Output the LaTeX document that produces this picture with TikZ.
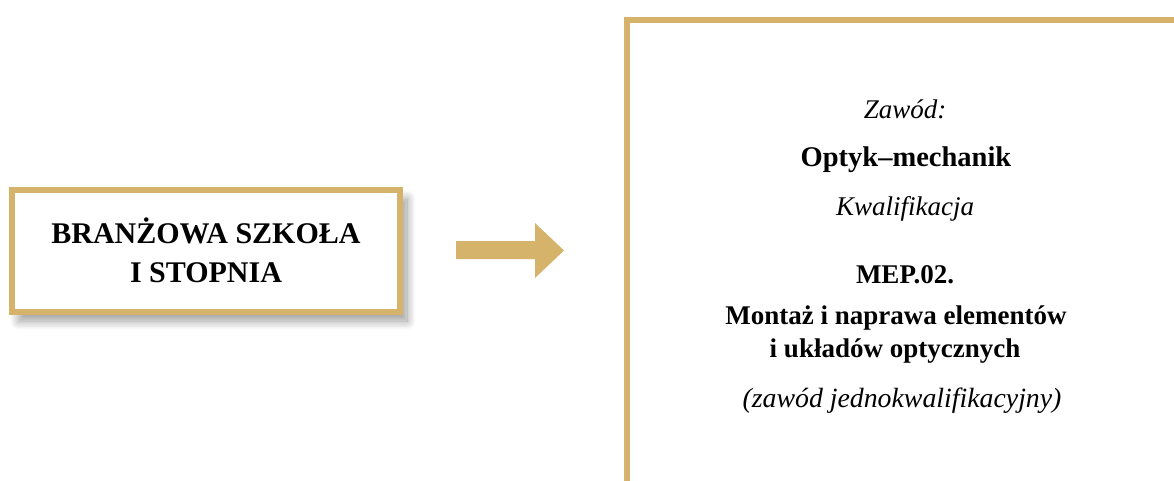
\documentclass[tikz,border=0pt]{standalone}
\usepackage{fontspec}
\setmainfont{Liberation Serif}
\usetikzlibrary{shadows.blur}
\definecolor{gold}{RGB}{214,179,106}
\begin{document}
\begin{tikzpicture}[x=1pt,y=-1pt,
  goldframe/.style={draw=gold,line width=6pt,fill=white},
  lbl/.style={anchor=base,inner sep=0pt,text=black},
  bigb/.style={lbl,font=\fontsize{30}{34}\selectfont\bfseries},
  rb/.style={lbl,font=\fontsize{27}{32}\selectfont\bfseries},
  ri/.style={lbl,font=\fontsize{27}{32}\selectfont\itshape}]
\useasboundingbox (0,0) rectangle (1174,480);
\clip (0,0) rectangle (1174,480);
% left box
\node[goldframe,minimum width=388pt,minimum height=122pt,inner sep=0pt,
  blur shadow={shadow xshift=7pt,shadow yshift=-9pt,shadow blur steps=20,shadow blur radius=9pt,shadow opacity=40}]
  (school) at (206,251) {};
\node[bigb] (s1) at (206,243) {BRANŻOWA SZKOŁA};
\node[bigb] (s2) at (206,282) {I STOPNIA};
% arrow
\coordinate (a1) at (456,241);
\coordinate (a2) at (535,241);
\coordinate (a3) at (535,223);
\coordinate (a4) at (564,250.5);
\coordinate (a5) at (535,278);
\coordinate (a6) at (535,259);
\coordinate (a7) at (456,259);
\fill[gold] (a1) -- (a2) -- (a3) -- (a4) -- (a5) -- (a6) -- (a7) -- cycle;
% right box
\node[goldframe,minimum width=566pt,minimum height=500pt,inner sep=0pt,anchor=north west] (job) at (624,16.5) {};
\node[ri] (t1) at (905,118) {Zawód:};
\node[rb,font=\fontsize{28.5}{32}\selectfont\bfseries] (t2) at (906,166) {Optyk–mechanik};
\node[ri] (t3) at (905,215) {Kwalifikacja};
\node[rb] (t4) at (905,283) {MEP.02.};
\node[rb] (t5) at (896,324) {Montaż i naprawa elementów};
\node[rb] (t6) at (895,357) {i układów optycznych};
\node[ri,font=\fontsize{27.8}{32}\selectfont\itshape] (t7) at (902,407) {(zawód jednokwalifikacyjny)};
\end{tikzpicture}
\end{document}
